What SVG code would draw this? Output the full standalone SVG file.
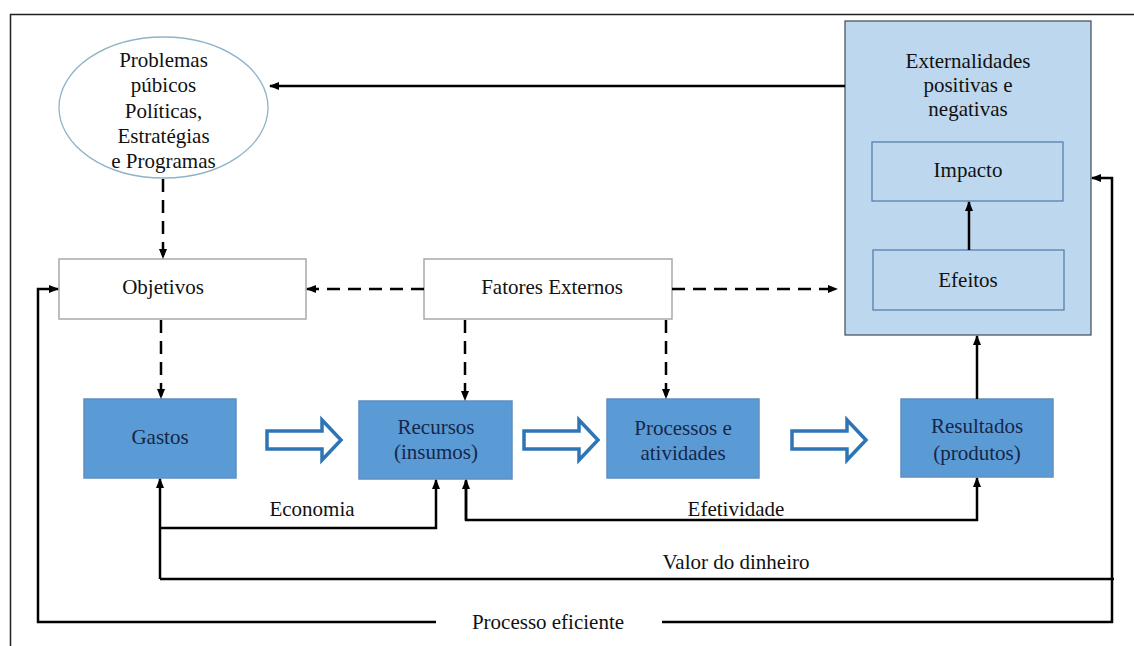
<svg xmlns="http://www.w3.org/2000/svg" width="1134" height="646" viewBox="0 0 1134 646">
  <defs>
    <marker id="ah" markerUnits="userSpaceOnUse" markerWidth="10" markerHeight="8" refX="9" refY="4" orient="auto">
      <path d="M0,0 L10,4 L0,8 z" fill="#000"/>
    </marker>
    <style>
      text { font-family: "Liberation Serif", "Times New Roman", serif; font-size: 21px; text-anchor: middle; fill: #111; }
      .dark { fill: #16264a; }
      .blue { fill: #5b9bd5; stroke: #5f8fc0; stroke-width: 1.5; }
      .white { fill: #fff; stroke: #a3aaae; stroke-width: 1.5; }
      .light { fill: #bdd7ee; stroke: #4f7aa8; stroke-width: 1.2; }
      .solid { fill: none; stroke: #000; stroke-width: 2.5; }
      .dash { fill: none; stroke: #000; stroke-width: 2.5; stroke-dasharray: 13 8; }
      .hollow { fill: #fff; stroke: #2e75b6; stroke-width: 3.5; stroke-linejoin: miter; }
    </style>
  </defs>
  <rect width="1134" height="646" fill="#fff"/>
  <path d="M10.5,646 V14.5 H1134" fill="none" stroke="#222" stroke-width="1.5"/>

  <g id="externalidades">
    <rect class="light" x="845" y="21" width="246" height="314" style="stroke:#3f4a55"/>
    <text x="968" y="68">Externalidades</text>
    <text x="968" y="92">positivas e</text>
    <text x="968" y="116">negativas</text>
  </g>
  <g id="impacto">
    <rect class="light" x="872" y="142" width="191" height="59"/>
    <text x="968" y="177">Impacto</text>
  </g>
  <g id="efeitos">
    <rect class="light" x="873" y="250" width="191" height="60"/>
    <text x="968" y="287">Efeitos</text>
  </g>

  <g id="problemas">
    <ellipse cx="163.5" cy="107.5" rx="104.5" ry="70.5" fill="#fff" stroke="#8fb3c9" stroke-width="1.3"/>
    <text x="163.5" y="67">Problemas</text>
    <text x="163.5" y="92">púbicos</text>
    <text x="163.5" y="118">Políticas,</text>
    <text x="163.5" y="143">Estratégias</text>
    <text x="163.5" y="168">e Programas</text>
  </g>
  <g id="objetivos">
    <rect class="white" x="59" y="259" width="247" height="60"/>
    <text x="163" y="294">Objetivos</text>
  </g>
  <g id="fatores">
    <rect class="white" x="424" y="259" width="248" height="60"/>
    <text x="552" y="294">Fatores Externos</text>
  </g>

  <g id="gastos">
    <rect class="blue" x="84" y="399" width="152" height="79"/>
    <text class="dark" x="160" y="444">Gastos</text>
  </g>
  <g id="recursos">
    <rect class="blue" x="359" y="401" width="153" height="78"/>
    <text class="dark" x="436" y="434">Recursos</text>
    <text class="dark" x="436" y="459">(insumos)</text>
  </g>
  <g id="processos">
    <rect class="blue" x="607" y="399" width="152" height="79"/>
    <text class="dark" x="683" y="435">Processos e</text>
    <text class="dark" x="683" y="460">atividades</text>
  </g>
  <g id="resultados">
    <rect class="blue" x="901" y="399" width="152" height="78"/>
    <text class="dark" x="977" y="433">Resultados</text>
    <text class="dark" x="977" y="460">(produtos)</text>
  </g>

  <g id="connectors">
    <polygon class="hollow" points="267,431 322,431 322,420 341,440 322,460 322,449 267,449"/>
    <polygon class="hollow" points="524,431 579,431 579,420 598,440 579,460 579,449 524,449"/>
    <polygon class="hollow" points="792,431 847,431 847,420 866,440 847,460 847,449 792,449"/>

    <path class="solid" d="M845,86 H270" marker-end="url(#ah)"/>
    <path class="dash" d="M163,179 V258" marker-end="url(#ah)"/>
    <path class="dash" d="M424,289 H307" marker-end="url(#ah)"/>
    <path class="dash" d="M672,289 H837" marker-end="url(#ah)"/>
    <path class="dash" d="M161,320 V398" marker-end="url(#ah)"/>
    <path class="dash" d="M465,320 V400" marker-end="url(#ah)"/>
    <path class="dash" d="M666,320 V398" marker-end="url(#ah)"/>
    <path class="solid" d="M969,250 V202" marker-end="url(#ah)"/>
    <path class="solid" d="M977,399 V336" marker-end="url(#ah)"/>

    <path class="solid" d="M160,528 H436 V480" marker-end="url(#ah)"/>
    <path class="solid" d="M160,579 V479" marker-end="url(#ah)"/>
    <path class="solid" d="M466,481 V520 H977 V478" marker-end="url(#ah)"/>
    <path class="solid" d="M466,520 V480" marker-end="url(#ah)"/>
    <path class="solid" d="M160,579 H1114"/>
    <path class="solid" d="M662,622 H1112 V178 H1092" marker-end="url(#ah)"/>
    <path class="solid" d="M436,622 H38 V289 H58" marker-end="url(#ah)"/>
  </g>

  <g id="labels">
    <text x="312" y="516">Economia</text>
    <text x="736" y="516">Efetividade</text>
    <text x="736" y="569">Valor do dinheiro</text>
    <text x="548" y="629">Processo eficiente</text>
  </g>
</svg>
